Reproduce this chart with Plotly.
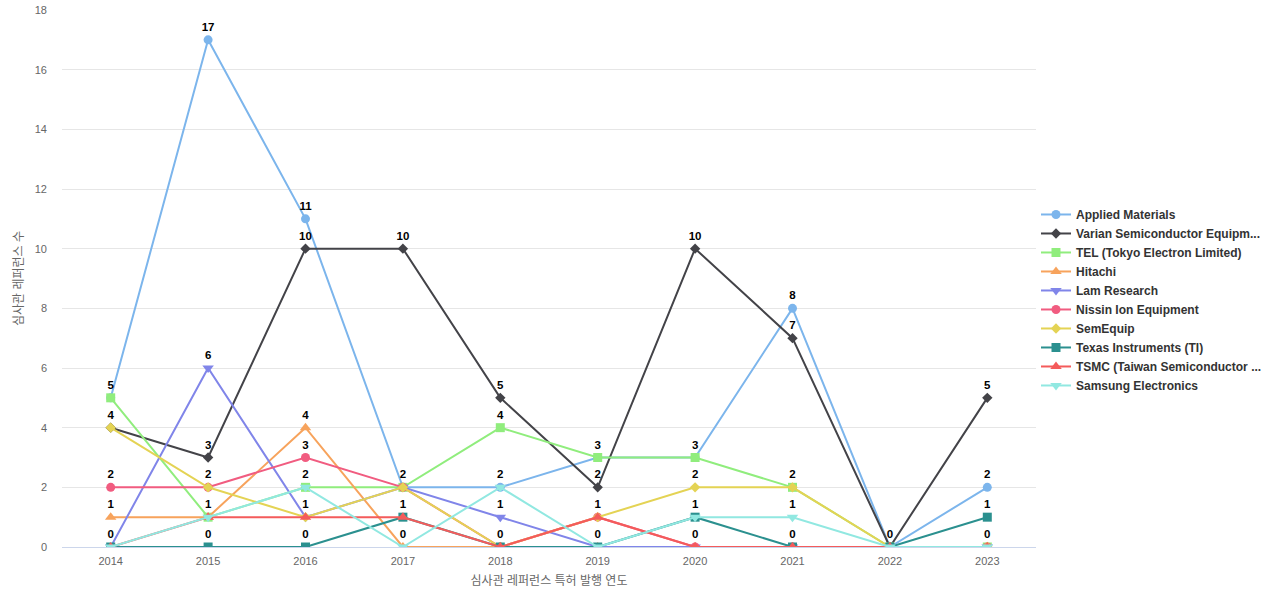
import plotly.graph_objects as go

years = ["2014", "2015", "2016", "2017", "2018", "2019", "2020", "2021", "2022", "2023"]

applied_materials = [5, 17, 11, 2, 2, 3, 3, 8, 0, 2]
varian = [4, 3, 10, 10, 5, 2, 10, 7, 0, 5]
tel = [5, 1, 2, 2, 4, 3, 3, 2, 0, 0]
hitachi = [1, 1, 4, 0, 0, 0, 0, 0, 0, 0]
lam_research = [0, 6, 1, 2, 1, 0, 0, 0, 0, 0]
nissin = [2, 2, 3, 2, 0, 1, 0, 0, 0, 0]
semequip = [4, 2, 1, 2, 0, 1, 2, 2, 0, 0]
texas_instruments = [0, 0, 0, 1, 0, 0, 1, 0, 0, 1]
tsmc = [0, 1, 1, 1, 0, 1, 0, 0, 0, 0]
samsung = [0, 1, 2, 0, 2, 0, 1, 1, 0, 0]

series_names = [
    "Applied Materials",
    "Varian Semiconductor Equipm...",
    "TEL (Tokyo Electron Limited)",
    "Hitachi",
    "Lam Research",
    "Nissin Ion Equipment",
    "SemEquip",
    "Texas Instruments (TI)",
    "TSMC (Taiwan Semiconductor ...",
    "Samsung Electronics",
]
series_values = [applied_materials, varian, tel, hitachi, lam_research,
                 nissin, semequip, texas_instruments, tsmc, samsung]
colors = ["#7cb5ec", "#434348", "#90ed7d", "#f7a35c", "#8085e9",
          "#f15c80", "#e4d354", "#2b908f", "#f45b5b", "#91e8e1"]
symbols = ["circle", "diamond", "square", "triangle-up", "triangle-down",
           "circle", "diamond", "square", "triangle-up", "triangle-down"]
sizes = {"circle": 9, "square": 9, "diamond": 8, "triangle-up": 10, "triangle-down": 10}

FONT = "Liberation Sans, Arial, Noto Sans CJK KR, sans-serif"

fig = go.Figure()
for name, vals, c, s in zip(series_names, series_values, colors, symbols):
    fig.add_trace(go.Scatter(
        x=years, y=vals, name=name, mode="lines+markers",
        line=dict(color=c, width=2),
        marker=dict(color=c, symbol=s, size=sizes[s]),
        hoverinfo="skip",
    ))

# data labels (one per distinct value at each year, as overlapping labels are hidden)
lx, ly, lt = [], [], []
for i, yr in enumerate(years):
    seen = set()
    for vals in series_values:
        v = vals[i]
        if v not in seen:
            seen.add(v)
            lx.append(yr)
            ly.append(v)
            lt.append(str(v))
fig.add_trace(go.Scatter(
    x=lx, y=ly, text=lt, mode="markers+text", textposition="top center",
    marker=dict(size=8, opacity=0),
    textfont=dict(family=FONT, size=11.5, color="#000000", weight="bold"),
    showlegend=False, hoverinfo="skip",
))

fig.update_layout(
    width=1280, height=600,
    margin=dict(l=62, r=244, t=10, b=53, autoexpand=False),
    plot_bgcolor="white", paper_bgcolor="white",
    font=dict(family=FONT, color="#666666"),
    showlegend=True,
    legend=dict(
        x=1.0, xanchor="left", y=0.46, yanchor="middle",
        font=dict(family=FONT, size=12, color="#333333", weight="bold"),
        itemwidth=30, tracegroupgap=0,
    ),
    xaxis=dict(
        type="category", range=[-0.5, 9.5], automargin=False,
        showline=True, linecolor="#ccd6eb", linewidth=1,
        showgrid=False, ticks="", ticklabelstandoff=4,
        tickfont=dict(size=11, color="#666666"),
        title=dict(text="심사관 레퍼런스 특허 발행 연도", font=dict(size=12, color="#666666"), standoff=10),
    ),
    yaxis=dict(
        range=[0, 18], dtick=2, showgrid=True, gridcolor="#e6e6e6", automargin=False,
        zeroline=False, showline=False, ticks="", ticklabelstandoff=14,
        tickfont=dict(size=11, color="#666666"),
        title=dict(text="심사관 레퍼런스 수", font=dict(size=12, color="#666666"), standoff=8),
    ),
)

fig.write_html("out.html", config={"displayModeBar": False},
               post_script="document.body.style.margin='0';")
